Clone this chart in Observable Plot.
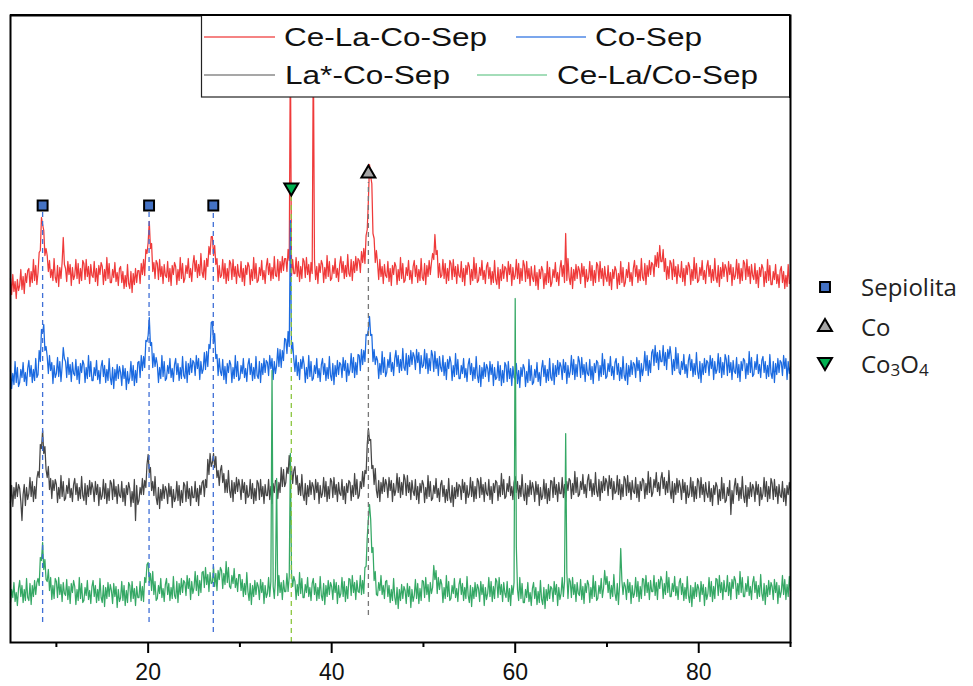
<!DOCTYPE html>
<html>
<head>
<meta charset="utf-8">
<script src="https://cdn.jsdelivr.net/npm/d3@7"></script>
<script src="https://cdn.jsdelivr.net/npm/@observablehq/plot@0.6"></script>
<style>
  body { margin: 0; background: #fff; }
  #chart { width: 973px; height: 686px; }
</style>
</head>
<body>
<div id="chart"></div>
<script>
// ---- data: 2θ grid 5°..90°, step 0.125° (one row per degree); intensities in a.u., stacked ----
const seriesNames = ["Ce-La-Co-Sep", "Co-Sep", "La*-Co-Sep", "Ce-La/Co-Sep"];
const seriesColors = ["#ef3a3a", "#1b6ae0", "#454545", "#35a865"];
const legendSwatchColors = ["#f25a5a", "#4f88e6", "#8a8a8a", "#86d2a2"];
const angleStart = 5;
const angleStep = 0.125;

const ceLaCoSep = [
364,348,368,351,361,344,363,352,
357,373,353,366,349,369,360,372,
374,356,371,360,383,362,377,358,
370,390,392,425,418,412,387,394,
387,371,382,365,373,362,384,365,
360,377,356,375,364,380,405,378,
374,361,381,368,378,357,375,363,
367,383,364,379,359,374,362,382,
379,363,383,366,376,359,378,367,
365,381,361,374,357,377,368,380,
376,358,373,362,385,364,379,360,
360,373,365,380,361,370,357,374,
376,360,371,354,367,356,378,359,
354,371,350,369,358,374,360,372,
372,359,379,368,383,367,393,389,
400,421,394,399,371,380,364,382,
379,363,383,366,376,359,378,367,
365,381,361,374,357,377,368,380,
376,358,373,362,385,364,379,360,
364,377,369,384,365,374,361,378,
387,371,382,365,378,367,389,370,
365,382,363,384,376,396,388,406,
406,387,397,378,384,361,377,365,
367,383,364,379,359,374,362,382,
379,363,383,366,376,359,378,367,
365,381,361,374,357,377,368,380,
376,358,373,362,385,364,379,360,
362,375,367,382,363,372,359,376,
384,368,379,362,375,364,386,367,
366,383,362,381,370,386,372,384,
384,371,393,382,600,367,383,369,
369,385,366,381,361,376,364,384,
381,365,385,368,378,361,380,369,
600,383,363,376,359,379,370,382,
378,360,375,364,387,366,381,362,
364,377,369,384,365,374,361,378,
386,370,381,364,377,366,388,369,
366,383,362,381,370,386,372,384,
382,370,391,380,394,379,407,413,
442,478,466,459,409,404,380,392,
379,363,383,366,376,359,378,367,
365,381,361,374,357,377,368,380,
376,358,373,362,385,364,379,360,
362,375,367,382,363,372,359,376,
382,366,377,360,373,362,384,365,
362,379,358,377,366,382,368,380,
389,383,408,388,392,365,379,365,
367,383,364,379,359,374,362,382,
379,363,383,366,376,359,378,367,
365,381,361,374,357,377,368,380,
376,358,373,362,385,364,379,360,
362,375,367,382,363,372,359,376,
380,364,375,358,371,360,382,363,
358,375,354,373,362,378,364,376,
374,361,381,368,378,357,375,363,
367,383,364,379,359,374,362,382,
377,361,381,364,374,357,376,365,
361,377,357,370,353,373,364,376,
372,354,369,358,381,360,375,356,
360,373,365,380,361,370,357,374,
382,366,377,360,409,362,384,365,
358,375,354,373,362,378,364,376,
372,359,379,366,376,355,373,361,
365,381,362,377,357,372,360,380,
377,361,381,364,374,357,376,365,
361,377,357,370,353,373,364,376,
372,354,369,358,381,360,375,356,
360,373,365,380,361,370,357,374,
382,366,377,360,373,362,384,365,
362,379,358,377,366,382,368,380,
378,366,387,376,390,375,397,381,
381,393,371,384,363,376,364,382,
379,363,383,366,376,359,378,367,
365,381,361,374,357,377,368,380,
376,358,373,362,385,364,379,360,
362,375,367,382,363,372,359,376,
382,366,377,360,373,362,384,365,
360,377,356,375,364,380,366,378,
374,361,381,368,378,357,375,363,
367,383,364,379,359,374,362,382,
379,363,383,366,376,359,378,367,
363,379,359,372,355,375,366,378,
374,356,371,360,383,362,377,358,
358,371,363,378,359,368,355,372,
376,360,371,354,367,356,378,359,
362
];

const coSep = [
272,254,269,258,281,260,275,256,
260,273,265,280,261,270,257,274,
282,266,277,260,273,262,284,265,
268,292,281,313,310,318,292,296,
286,269,287,272,280,259,277,265,
269,285,266,281,261,276,295,284,
281,265,285,268,278,261,280,269,
267,283,263,276,259,279,270,282,
278,260,275,264,287,266,281,262,
262,275,267,282,263,272,259,276,
282,266,277,260,273,262,284,265,
258,275,254,273,262,278,264,276,
270,257,277,264,274,253,271,259,
265,281,262,277,257,272,260,280,
281,265,287,272,286,275,302,301,
307,325,297,300,275,289,276,285,
278,260,275,264,287,266,281,262,
264,277,269,284,265,274,261,278,
284,268,279,262,275,264,286,267,
264,281,260,279,268,284,270,282,
280,267,287,274,284,263,281,269,
273,290,273,291,276,298,294,320,
321,299,309,284,288,267,284,271,
267,283,263,276,259,279,270,282,
278,260,275,264,287,266,281,262,
264,277,269,284,265,274,261,278,
284,268,279,262,275,264,286,267,
264,281,260,279,268,284,270,282,
280,267,287,274,284,263,281,269,
277,294,276,293,275,292,282,304,
303,289,311,296,422,289,300,283,
271,287,267,280,263,283,274,286,
278,260,275,264,287,266,281,262,
264,277,269,284,265,274,261,278,
284,268,279,262,275,264,286,267,
262,279,258,277,266,282,268,280,
278,265,285,272,282,261,279,267,
273,289,270,285,265,280,268,288,
287,272,293,278,292,281,308,307,
313,326,307,308,281,293,278,286,
282,264,279,268,291,270,285,266,
270,283,275,290,271,280,267,284,
292,276,287,270,283,272,294,275,
272,289,268,287,276,292,278,290,
286,273,293,280,290,269,287,275,
277,293,274,289,269,284,272,292,
287,271,291,274,284,267,286,275,
271,287,267,280,263,283,274,286,
280,262,277,266,289,268,283,264,
264,277,269,284,265,274,261,278,
284,268,279,262,275,264,286,267,
260,277,256,275,264,280,266,278,
274,261,281,268,278,257,275,263,
265,281,262,277,257,272,260,280,
277,261,281,264,274,257,276,265,
263,279,259,272,255,275,266,278,
274,256,271,260,283,262,277,258,
260,273,265,280,261,270,257,274,
282,266,277,260,273,262,284,265,
262,279,258,277,266,282,268,280,
276,263,283,270,280,259,277,265,
271,287,268,283,263,278,266,286,
281,265,285,268,278,261,280,269,
267,283,263,276,259,279,270,282,
280,262,277,266,289,268,283,264,
266,279,271,286,267,276,263,280,
284,268,279,262,275,264,286,267,
262,279,258,277,266,282,268,280,
278,265,285,272,282,261,279,267,
275,291,272,287,267,282,270,290,
293,277,297,280,290,273,292,281,
281,297,277,290,273,293,284,296,
286,268,283,272,295,274,289,270,
268,281,273,288,269,278,265,282,
288,272,283,266,279,268,290,271,
264,281,260,279,268,284,270,282,
280,267,287,274,284,263,281,269,
273,289,270,285,265,280,268,288,
283,267,287,270,280,263,282,271,
269,285,265,278,261,281,272,284,
282,264,279,268,291,270,285,266,
268,281,273,288,269,278,265,282,
286,270,281,264,277,266,288,269,
264,281,260,279,268,284,270,282,
280,267,287,274,284,263,281,269,
276
];

const laCoSep = [
140,157,136,155,144,160,146,158,
154,141,122,148,158,137,155,143,
149,165,146,161,141,156,144,164,
171,165,198,194,212,189,196,173,
165,176,153,164,144,162,152,163,
158,140,155,144,167,146,161,142,
144,157,149,164,145,154,141,158,
164,148,159,142,155,144,166,147,
142,159,138,157,146,162,148,160,
154,141,161,148,158,137,155,143,
147,163,144,159,139,154,142,162,
159,143,163,146,156,139,158,147,
145,161,141,154,137,157,148,160,
154,136,151,140,163,122,157,138,
142,155,148,164,148,162,155,178,
188,170,175,152,161,147,166,145,
138,155,134,153,142,158,144,156,
152,139,159,146,156,135,153,141,
145,161,142,157,137,152,140,160,
157,141,161,144,154,137,156,145,
145,161,141,154,137,157,148,160,
162,146,163,155,183,168,189,176,
180,189,175,186,165,172,157,172,
177,160,169,150,163,150,172,152,
145,162,141,160,149,165,151,163,
156,143,163,150,160,139,157,145,
147,163,144,159,139,154,142,162,
159,143,163,146,156,139,158,147,
147,163,143,156,139,159,150,162,
161,144,160,150,175,156,173,156,
160,175,169,187,171,176,159,172,
176,158,167,148,159,147,168,148,
142,159,138,157,146,162,148,160,
156,143,163,150,160,139,157,145,
149,165,146,161,141,156,144,164,
161,145,165,148,158,141,160,149,
147,163,143,156,139,159,150,162,
160,142,157,146,169,148,163,144,
147,161,154,171,156,172,169,198,
214,202,203,174,177,158,174,152,
145,162,141,160,149,165,151,163,
158,145,165,152,162,141,159,147,
153,169,150,165,145,160,148,168,
163,147,167,150,160,143,162,151,
147,163,143,156,139,159,150,162,
158,140,155,144,167,146,161,142,
144,157,149,164,145,154,141,158,
162,146,157,140,153,142,164,145,
140,157,136,155,144,160,146,158,
156,143,163,150,160,139,157,145,
149,165,146,161,141,156,144,164,
161,145,165,148,158,141,160,149,
147,163,143,156,139,159,150,162,
160,142,157,146,169,148,163,144,
146,159,151,166,147,156,143,160,
166,150,161,144,157,146,168,149,
142,159,138,157,146,162,148,160,
154,141,161,148,158,137,155,143,
147,163,144,159,139,154,142,162,
161,145,165,148,158,141,160,149,
149,165,145,158,141,161,152,164,
162,144,159,148,171,150,165,146,
148,161,153,168,149,158,145,162,
168,152,163,146,159,148,170,151,
146,163,142,161,150,166,152,164,
160,147,167,154,164,143,161,149,
151,167,148,163,143,158,146,166,
163,147,167,150,160,143,162,151,
149,165,145,158,141,161,152,164,
162,144,159,148,171,150,165,146,
150,163,155,170,151,160,147,164,
170,154,165,148,161,150,172,153,
144,161,140,159,148,164,150,162,
156,143,163,150,160,139,157,145,
149,165,146,161,141,156,144,164,
161,145,165,148,158,141,160,149,
145,161,141,154,137,157,148,160,
156,138,153,142,165,144,159,140,
142,155,147,162,128,152,139,156,
164,148,159,142,155,144,166,147,
140,157,136,155,144,160,146,158,
154,141,161,148,158,137,155,143,
149,165,146,161,141,156,144,164,
159,143,163,146,156,139,158,147,
145,161,141,154,137,157,148,160,
152
];

const ceLaSlashCoSep = [
40,53,45,60,41,50,37,54,
62,46,57,40,53,42,64,45,
42,59,38,57,46,62,48,60,
64,57,85,82,100,73,83,63,
61,73,52,65,43,57,44,64,
61,45,65,48,58,41,60,49,
47,63,43,56,39,59,50,62,
56,38,53,42,65,44,59,40,
42,55,47,62,43,52,39,56,
62,46,57,40,53,42,64,45,
40,57,36,55,44,60,46,58,
52,39,59,46,56,35,53,41,
45,61,42,57,37,52,40,60,
57,41,61,44,54,37,56,45,
45,61,42,56,41,65,60,78,
80,60,69,52,71,48,61,42,
44,57,49,64,45,54,41,58,
64,48,59,42,55,44,66,47,
44,61,40,59,48,64,50,62,
60,47,67,54,64,43,61,49,
55,71,52,67,47,62,50,70,
71,55,75,58,68,51,70,59,
60,76,56,69,52,72,63,75,
72,54,69,58,81,60,75,56,
54,67,59,74,55,64,51,68,
68,52,63,46,59,48,70,51,
42,59,38,57,46,62,48,60,
56,43,63,50,60,39,57,45,
49,65,46,61,272,56,44,64,
164,47,67,50,60,43,62,51,
51,69,51,66,189,69,56,66,
61,43,58,47,70,49,64,45,
45,58,50,65,46,55,42,59,
64,48,59,42,55,44,66,47,
42,59,38,57,46,62,48,60,
56,43,63,50,60,39,57,45,
49,65,46,61,41,56,44,64,
63,47,67,50,60,43,62,51,
50,67,48,62,49,75,76,105,
124,138,123,90,95,62,71,48,
47,60,52,67,48,57,44,61,
62,46,57,40,53,42,64,45,
38,55,34,53,42,58,44,56,
52,39,59,46,56,35,53,41,
47,63,44,59,39,54,42,62,
61,45,65,48,58,41,60,49,
55,77,63,72,49,65,53,63,
58,40,55,44,67,46,61,42,
44,57,49,64,45,54,41,58,
64,48,59,42,55,44,66,47,
40,57,36,55,44,60,46,58,
54,41,61,48,58,37,55,43,
49,65,46,61,41,56,44,64,
61,45,65,48,58,41,60,49,
45,61,41,54,37,57,48,60,
344,95,53,42,65,44,59,40,
40,53,45,60,41,50,37,54,
60,44,55,38,51,40,62,43,
38,55,34,53,42,58,44,56,
54,41,61,48,58,37,55,43,
49,65,46,61,209,70,44,64,
61,45,65,48,58,41,60,49,
47,63,43,56,39,59,50,62,
58,40,55,44,67,46,61,42,
44,57,49,64,45,54,72,58,
66,50,61,44,57,46,68,49,
42,59,38,57,94,62,48,60,
56,43,63,50,60,39,57,45,
49,65,46,61,41,56,44,64,
63,47,67,50,60,43,62,51,
51,67,47,60,43,63,54,66,
62,44,59,48,71,50,65,46,
46,59,51,66,47,56,43,60,
64,48,59,42,55,44,66,47,
40,57,36,55,44,60,46,58,
54,41,61,48,58,37,55,43,
49,65,46,61,41,56,44,64,
63,47,67,50,60,43,62,51,
51,67,47,60,43,63,54,66,
62,44,59,48,71,50,65,46,
46,59,51,66,47,56,43,60,
66,50,61,44,57,46,68,49,
42,59,38,57,46,62,48,60,
56,43,63,50,60,39,57,45,
51,67,48,63,43,58,46,66,
52
];

// reflection markers (2θ) and marker / guide levels
const sepiolitePeaks = [8.5, 20.1, 27.1];
const sepioliteMarkLevel = [437, 437, 437];
const sepioliteGuideTop = [430, 430, 430];
const sepioliteGuideBottom = [20, 20, 10];
const co3o4Peaks = [35.6];
const co3o4MarkLevel = [455];
const co3o4GuideTop = [446];
const co3o4GuideBottom = [0];
const coPeaks = [44.0];
const coMarkLevel = [469];
const coGuideTop = [460];
const coGuideBottom = [27];

const majorTicks = [20, 40, 60, 80];
const minorTicks = [10, 30, 50, 70, 90];

// ---- build tables ----
const allSeries = [ceLaCoSep, coSep, laCoSep, ceLaSlashCoSep];
const rows = [];
allSeries.forEach((vals, s) => {
  vals.forEach((v, i) => rows.push({angle: angleStart + i * angleStep, intensity: v, series: seriesNames[s]}));
});
const makeGuides = (peaks, topv, bottom) => peaks.map((p, i) => ({angle: p, top: topv[i], bottom: bottom[i]}));
const makeMarks = (peaks, level) => peaks.map((p, i) => ({angle: p, level: level[i]}));

const plot = Plot.plot({
  width: 973,
  height: 686,
  marginLeft: 10,
  marginRight: 183,
  marginTop: 15,
  marginBottom: 44,
  x: {domain: [5, 90]},
  y: {domain: [0, 627], axis: null},
  color: {domain: seriesNames, range: seriesColors},
  style: {fontFamily: "'Liberation Sans', Arial, sans-serif", background: "#fff", color: "#111"},
  marks: [
    Plot.line(rows, {x: "angle", y: "intensity", z: "series", stroke: "series", strokeWidth: 1.25}),
    Plot.ruleX(makeGuides(sepiolitePeaks, sepioliteGuideTop, sepioliteGuideBottom),
      {x: "angle", y1: "bottom", y2: "top", stroke: "#3f6fd6", strokeWidth: 1.3, strokeDasharray: "5,4"}),
    Plot.ruleX(makeGuides(co3o4Peaks, co3o4GuideTop, co3o4GuideBottom),
      {x: "angle", y1: "bottom", y2: "top", stroke: "#8cc63f", strokeWidth: 1.3, strokeDasharray: "5,4"}),
    Plot.ruleX(makeGuides(coPeaks, coGuideTop, coGuideBottom),
      {x: "angle", y1: "bottom", y2: "top", stroke: "#777", strokeWidth: 1.3, strokeDasharray: "5,4"}),
    Plot.dot(makeMarks(sepiolitePeaks, sepioliteMarkLevel),
      {x: "angle", y: "level", symbol: "square", r: 5.6, fill: "#4472c4", stroke: "#000", strokeWidth: 2}),
    Plot.dot(makeMarks(co3o4Peaks, co3o4MarkLevel),
      {x: "angle", y: "level", symbol: "triangle", rotate: 180, r: 5.2, fill: "#00b050", stroke: "#000", strokeWidth: 2}),
    Plot.dot(makeMarks(coPeaks, coMarkLevel),
      {x: "angle", y: "level", symbol: "triangle", r: 5.2, fill: "#a6a6a6", stroke: "#000", strokeWidth: 2}),
    Plot.axisX({ticks: minorTicks, tickSize: 5, tickFormat: () => "", label: null, strokeWidth: 2, stroke: "#000"}),
    Plot.axisX({ticks: majorTicks, tickSize: 11, tickPadding: 10, fontSize: 23, label: null, strokeWidth: 2, stroke: "#000", fill: "#111"}),
    Plot.frame({stroke: "#000", strokeWidth: 2})
  ]
});

document.getElementById("chart").appendChild(plot);

// ---- legends ----
const svg = d3.select(plot);
const legendTop = svg.append("g").attr("text-anchor", "start");
legendTop.append("rect").attr("x", 201.5).attr("y", 15).attr("width", 588.5).attr("height", 82)
  .attr("fill", "#fff").attr("stroke", "#222").attr("stroke-width", 1.2);
legendTop.append("line").attr("x1", 10).attr("x2", 790).attr("y1", 15).attr("y2", 15).attr("stroke", "#000").attr("stroke-width", 2);
legendTop.append("line").attr("x1", 790).attr("x2", 790).attr("y1", 15).attr("y2", 98).attr("stroke", "#000").attr("stroke-width", 2);
const legendItems = [
  {i: 0, x1: 204, x2: 275, y: 37, tx: 284, ty: 46, len: 203},
  {i: 1, x1: 516, x2: 586, y: 37, tx: 595, ty: 46, len: 107},
  {i: 2, x1: 204, x2: 275, y: 75, tx: 285, ty: 84, len: 165},
  {i: 3, x1: 477, x2: 547, y: 75, tx: 557, ty: 84, len: 201}
];
legendItems.forEach(d => {
  legendTop.append("line").attr("x1", d.x1).attr("x2", d.x2).attr("y1", d.y).attr("y2", d.y)
    .attr("stroke", legendSwatchColors[d.i]).attr("stroke-width", 1.5);
  legendTop.append("text").attr("x", d.tx).attr("y", d.ty).attr("text-anchor", "start")
    .attr("font-family", "'Liberation Sans', Arial, sans-serif").attr("font-size", 25).attr("fill", "#111")
    .attr("textLength", d.len).attr("lengthAdjust", "spacingAndGlyphs")
    .text(seriesNames[d.i]);
});

const side = svg.append("g").attr("font-family", "'Open Sans', sans-serif").attr("font-size", 24)
  .attr("fill", "#222").attr("text-anchor", "start");
side.append("path").attr("transform", "translate(825,287)")
  .attr("d", d3.symbol(d3.symbolSquare, Math.PI * 5.6 * 5.6)()).attr("fill", "#4472c4").attr("stroke", "#000").attr("stroke-width", 2);
side.append("path").attr("transform", "translate(825,327)")
  .attr("d", d3.symbol(d3.symbolTriangle, Math.PI * 5.2 * 5.2)()).attr("fill", "#a6a6a6").attr("stroke", "#000").attr("stroke-width", 2);
side.append("path").attr("transform", "translate(825,362) rotate(180)")
  .attr("d", d3.symbol(d3.symbolTriangle, Math.PI * 5.2 * 5.2)()).attr("fill", "#00b050").attr("stroke", "#000").attr("stroke-width", 2);
side.append("text").attr("x", 861).attr("y", 296).text("Sepiolita");
side.append("text").attr("x", 861).attr("y", 336).text("Co");
const co3 = side.append("text").attr("x", 861).attr("y", 373);
co3.append("tspan").text("Co");
co3.append("tspan").attr("font-size", 17).attr("dy", 3).text("3");
co3.append("tspan").attr("dy", -3).text("O");
co3.append("tspan").attr("font-size", 17).attr("dy", 3).text("4");
</script>
</body>
</html>
